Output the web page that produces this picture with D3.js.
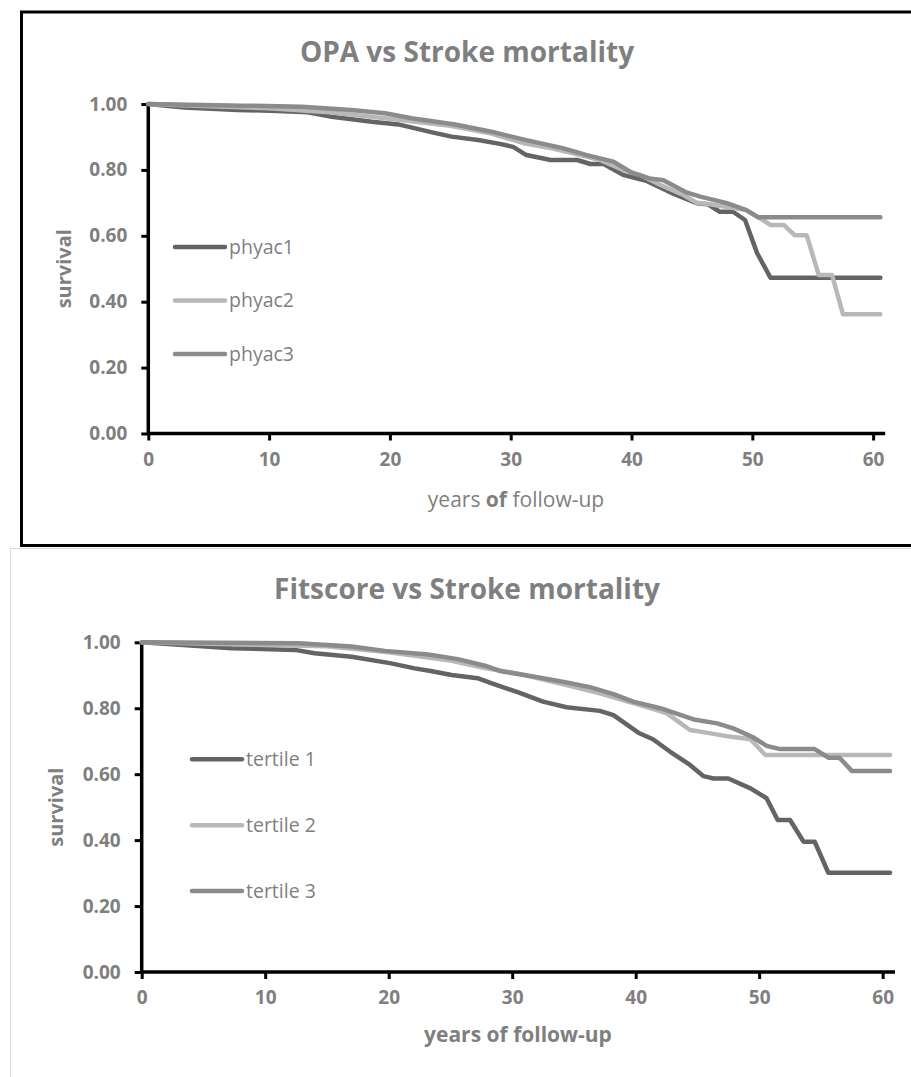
<!DOCTYPE html>
<html>
<head>
<meta charset="utf-8">
<script src="https://cdn.jsdelivr.net/npm/d3@7"></script>
<style>
  body { margin: 0; background: #fff; }
  svg text { font-family: "Open Sans", sans-serif; fill: #7f7f7f; }
</style>
</head>
<body>
<svg id="chart" width="911" height="1077"></svg>
<script>
// shared axis ticks
const xTicks = [0, 10, 20, 30, 40, 50, 60];
const yTicks = [0, 0.2, 0.4, 0.6, 0.8, 1.0];

// OPA panel: [years, survival]
const opaLabels = ["phyac1", "phyac2", "phyac3"];
const phyac1 = [[0,1.0],[3,0.989],[7.4,0.982],[10.7,0.979],[13.2,0.975],[15.2,0.961],[18.5,0.946],[20.7,0.938],[23.5,0.914],[25.1,0.901],[27.3,0.891],[29.1,0.879],[30.2,0.870],[31.3,0.845],[33.3,0.830],[35.5,0.830],[36.6,0.818],[37.7,0.818],[39.3,0.785],[41.3,0.766],[43.5,0.727],[45.4,0.699],[46.3,0.696],[47.3,0.673],[48.4,0.673],[49.4,0.648],[50.4,0.547],[51.5,0.473],[60.6,0.473]];
const phyac2 = [[0,1.0],[5,0.993],[10,0.987],[15,0.975],[20,0.955],[25,0.934],[28.4,0.910],[31.2,0.880],[33.3,0.866],[35.2,0.850],[37.4,0.830],[39.3,0.800],[40.7,0.785],[42.4,0.754],[44.3,0.724],[45.4,0.700],[46.5,0.696],[47.8,0.688],[49.5,0.678],[50.4,0.658],[51.5,0.633],[52.6,0.633],[53.5,0.602],[54.5,0.602],[55.5,0.481],[56.6,0.481],[57.5,0.362],[60.6,0.362]];
const phyac3 = [[0,1.0],[7.8,0.995],[12.7,0.992],[16.8,0.982],[19.6,0.972],[21.8,0.957],[25.4,0.938],[28.4,0.916],[31.2,0.891],[34.3,0.866],[36.3,0.845],[38.5,0.825],[40.1,0.790],[41.5,0.774],[42.6,0.769],[44.6,0.731],[45.7,0.719],[47.9,0.699],[49.5,0.678],[50.5,0.656],[60.6,0.656]];

// Fitscore panel: [years, survival]
const fitLabels = ["tertile 1", "tertile 2", "tertile 3"];
const tertile1 = [[0,1.0],[7.3,0.982],[12.4,0.977],[14,0.967],[17,0.956],[20.2,0.936],[22.1,0.921],[23.4,0.913],[25.1,0.901],[27.2,0.891],[28.3,0.876],[30.5,0.848],[32.5,0.820],[34.4,0.803],[37.1,0.792],[38.2,0.779],[40.3,0.724],[41.4,0.706],[42.8,0.668],[44.4,0.628],[45.5,0.594],[46.3,0.587],[47.5,0.587],[49.3,0.557],[50.6,0.527],[51.5,0.461],[52.5,0.461],[53.6,0.395],[54.5,0.395],[55.6,0.301],[60.6,0.301]];
const tertile2 = [[0,1.0],[10,0.992],[15,0.988],[20,0.970],[25,0.945],[27.8,0.922],[30.5,0.905],[34.4,0.870],[37.1,0.845],[40.3,0.810],[42.5,0.785],[44.4,0.734],[45.7,0.726],[47.6,0.714],[49.3,0.706],[50.5,0.658],[60.6,0.658]];
const tertile3 = [[0,1.0],[12.7,0.997],[17,0.987],[19.7,0.974],[23.2,0.963],[25.6,0.949],[27.8,0.929],[29,0.913],[31.7,0.896],[34.4,0.878],[36.3,0.864],[38.2,0.843],[39.8,0.820],[42,0.800],[44.7,0.766],[46.6,0.754],[47.9,0.739],[49.5,0.712],[50.6,0.686],[51.7,0.676],[54.5,0.676],[55.6,0.650],[56.5,0.650],[57.5,0.610],[60.6,0.610]];

const colors = ["#646464", "#b8b8b8", "#8b8b8b"];

const svg = d3.select("#chart");

// frames
svg.append("rect")
  .attr("x", 10.5).attr("y", 548.5).attr("width", 960).attr("height", 600)
  .attr("fill", "none").attr("stroke", "#d9d9d9").attr("stroke-width", 1);

svg.append("rect")
  .attr("x", 21.5).attr("y", 12).attr("width", 960).attr("height", 533.5)
  .attr("fill", "none").attr("stroke", "#000").attr("stroke-width", 3);

function drawPanel(cfg) {
  const g = svg.append("g");

  const x = d3.scaleLinear().domain([0, 61]).range([cfg.x0, cfg.x1]);
  const y = d3.scaleLinear().domain([0, 1]).range([cfg.y0, cfg.y1]);

  g.append("text")
    .attr("x", cfg.titleX).attr("y", cfg.titleY)
    .attr("text-anchor", "middle")
    .style("font-size", "28px").style("font-weight", "bold")
    .text(cfg.title);

  // y axis
  const yAxis = g.append("g")
    .attr("transform", `translate(${cfg.x0},0)`)
    .call(d3.axisLeft(y).tickValues(yTicks).tickFormat(d3.format(".2f")).tickSize(7).tickPadding(14));

  // x axis
  const xAxis = g.append("g")
    .attr("transform", `translate(0,${cfg.y0})`)
    .call(d3.axisBottom(x).tickValues(xTicks).tickSize(7).tickPadding(12));

  [yAxis, xAxis].forEach(a => {
    a.select(".domain").attr("stroke", "#000").attr("stroke-width", 3.5);
    a.selectAll(".tick line").attr("stroke", "#000").attr("stroke-width", 3);
    a.selectAll(".tick text")
      .attr("fill", "#7f7f7f")
      .style("font-family", "'Open Sans', sans-serif")
      .style("font-size", "19px").style("font-weight", "bold");
  });
  yAxis.select(".domain").attr("d", `M0,${cfg.y0 + 1.5}V${cfg.y1}`);
  xAxis.select(".domain").attr("d", `M${cfg.x0},0H${cfg.x1}`);

  // axis titles
  g.append("text")
    .attr("transform", `translate(${cfg.yTitleX},${(cfg.y0 + cfg.y1) / 2}) rotate(-90)`)
    .attr("text-anchor", "middle").attr("dy", "0.35em")
    .style("font-size", "20px").style("font-weight", "bold")
    .text("survival");

  const xt = g.append("text")
    .attr("x", cfg.xTitleX).attr("y", cfg.xTitleY)
    .attr("text-anchor", "middle")
    .style("font-size", "21px");
  if (cfg.boldOfOnly) {
    xt.append("tspan").text("years ");
    xt.append("tspan").style("font-weight", "bold").text("of");
    xt.append("tspan").text(" follow-up");
  } else {
    xt.style("font-weight", "bold").text("years of follow-up");
  }

  // curves
  const line = d3.line().x(d => x(d[0])).y(d => y(d[1]));
  g.selectAll("path.curve")
    .data(cfg.series)
    .join("path")
    .attr("class", "curve")
    .attr("d", line)
    .attr("fill", "none")
    .attr("stroke", (d, i) => colors[i])
    .attr("stroke-width", 4.5)
    .attr("stroke-linejoin", "round")
    .attr("stroke-linecap", "round");

  // legend
  const leg = g.selectAll("g.leg")
    .data(cfg.labels)
    .join("g")
    .attr("class", "leg")
    .attr("transform", (d, i) => `translate(${cfg.legX},${cfg.legY + i * cfg.legStep})`);
  leg.append("line")
    .attr("x1", 0).attr("x2", 50)
    .attr("stroke", (d, i) => colors[i])
    .attr("stroke-width", 4.5)
    .attr("stroke-linecap", "round");
  leg.append("text")
    .attr("x", 54).attr("dy", "0.35em")
    .style("font-size", "19.5px")
    .text(d => d);
}

drawPanel({
  title: "OPA vs Stroke mortality", titleX: 467, titleY: 62,
  x0: 148.3, x1: 885.2, y0: 433.5, y1: 104,
  yTitleX: 64, xTitleX: 516, xTitleY: 507, boldOfOnly: true,
  series: [phyac1, phyac2, phyac3], labels: opaLabels,
  legX: 175, legY: 247, legStep: 53.5
});

drawPanel({
  title: "Fitscore vs Stroke mortality", titleX: 467, titleY: 599,
  x0: 141.7, x1: 895, y0: 972, y1: 642.3,
  yTitleX: 56, xTitleX: 518, xTitleY: 1042, boldOfOnly: false,
  series: [tertile1, tertile2, tertile3], labels: fitLabels,
  legX: 192, legY: 759.3, legStep: 65.9
});
</script>
</body>
</html>
